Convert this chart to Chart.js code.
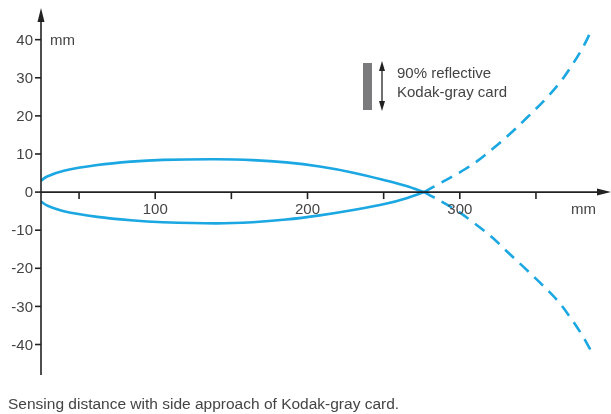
<!DOCTYPE html>
<html>
<head>
<meta charset="utf-8">
<script src="https://cdn.jsdelivr.net/npm/chart.js@4"></script>
<style>
  html, body { margin: 0; padding: 0; background: #fff; }
  #wrap { width: 611px; height: 414px; position: relative; }
</style>
</head>
<body>
<div id="wrap"><canvas id="chart" width="611" height="414"></canvas></div>
<script>
  // sensing range, mm
  const upperX = [25, 29, 40, 62, 84, 105, 140, 164, 186, 208, 230, 252, 265, 276.5];
  const upperY = [3.0, 4.1, 5.6, 7.1, 8.0, 8.45, 8.6, 8.4, 7.8, 6.7, 5.1, 3.0, 1.6, 0];
  const lowerX = [25, 29, 40, 62, 84, 105, 140, 164, 186, 208, 230, 252, 265, 276.5];
  const lowerY = [-2.5, -3.5, -5.0, -6.5, -7.4, -7.9, -8.2, -7.9, -7.2, -6.1, -4.7, -3.0, -1.6, 0];

  const dashUpX = [276.5, 287, 300, 311, 322, 333, 344, 356, 366, 374, 381, 387];
  const dashUpY = [0, 2.3, 5.2, 8.0, 11.5, 15.3, 19.5, 24.3, 28.9, 33.5, 38.1, 43.0];
  const dashLowX = [276.5, 295.5, 309, 321, 331, 341.5, 353, 364, 372.4, 381, 387];
  const dashLowY = [0, -4.2, -8.0, -11.8, -15.6, -19.5, -23.9, -28.4, -32.8, -38.0, -42.3];

  const xTicks = [50, 100, 150, 200, 250, 300, 350];
  const xTickLabels = { 100: "100", 200: "200", 300: "300" };
  const yTicks = [40, 30, 20, 10, 0, -10, -20, -30, -40];

  const blue = "#1aa7e2";
  const textColor = "#444";
  const font = "Liberation Sans, Arial, sans-serif";

  function pts(xs, ys) {
    return xs.map((x, i) => ({ x: x, y: ys[i] }));
  }

  function lineSet(data, dashed) {
    return {
      data: data,
      showLine: true,
      borderColor: blue,
      borderWidth: 2.6,
      borderDash: dashed ? [12, 8] : [],
      pointRadius: 0,
      tension: 0.35,
      fill: false
    };
  }

  // axes through origin, arrows, ticks, labels, card note and caption
  const decor = {
    id: "decor",
    afterDraw(chart) {
      const ctx = chart.ctx;
      const xs = chart.scales.x;
      const ys = chart.scales.y;
      const ax = xs.getPixelForValue(25);
      const ay = ys.getPixelForValue(0);
      const area = chart.chartArea;

      ctx.save();
      ctx.strokeStyle = "#222";
      ctx.fillStyle = "#222";
      ctx.lineWidth = 1.6;

      // y axis
      ctx.beginPath();
      ctx.moveTo(ax, area.bottom);
      ctx.lineTo(ax, 16);
      ctx.stroke();
      ctx.beginPath();
      ctx.moveTo(ax, 8);
      ctx.lineTo(ax - 3.5, 22);
      ctx.lineTo(ax + 3.5, 22);
      ctx.closePath();
      ctx.fill();

      // x axis
      ctx.beginPath();
      ctx.moveTo(ax, ay);
      ctx.lineTo(600, ay);
      ctx.stroke();
      ctx.beginPath();
      ctx.moveTo(611, ay);
      ctx.lineTo(597, ay - 3.5);
      ctx.lineTo(597, ay + 3.5);
      ctx.closePath();
      ctx.fill();

      ctx.font = "15px " + font;
      ctx.fillStyle = textColor;

      // y ticks
      ctx.textAlign = "right";
      ctx.textBaseline = "middle";
      yTicks.forEach(v => {
        const py = ys.getPixelForValue(v);
        ctx.beginPath();
        ctx.moveTo(ax - 6, py);
        ctx.lineTo(ax, py);
        ctx.stroke();
        ctx.fillText(String(v), ax - 8, py + 1);
      });

      // x ticks
      ctx.textAlign = "center";
      xTicks.forEach(v => {
        const px = xs.getPixelForValue(v);
        ctx.beginPath();
        ctx.moveTo(px, ay);
        ctx.lineTo(px, ay + 7);
        ctx.stroke();
        if (xTickLabels[v]) ctx.fillText(xTickLabels[v], px, ay + 18);
      });

      // units
      ctx.textAlign = "left";
      ctx.fillText("mm", ax + 9, ys.getPixelForValue(40) + 1);
      ctx.fillText("mm", 571, ay + 18);

      // gray card + double arrow
      ctx.fillStyle = "#7b7b7d";
      ctx.fillRect(363, 63, 9, 47);
      ctx.fillStyle = "#222";
      ctx.lineWidth = 1.3;
      ctx.beginPath();
      ctx.moveTo(382, 68);
      ctx.lineTo(382, 104);
      ctx.stroke();
      ctx.beginPath();
      ctx.moveTo(382, 61);
      ctx.lineTo(379, 71);
      ctx.lineTo(385, 71);
      ctx.closePath();
      ctx.fill();
      ctx.beginPath();
      ctx.moveTo(382, 111);
      ctx.lineTo(379, 101);
      ctx.lineTo(385, 101);
      ctx.closePath();
      ctx.fill();

      ctx.fillStyle = textColor;
      ctx.textBaseline = "alphabetic";
      ctx.fillText("90% reflective", 397, 78);
      ctx.fillText("Kodak-gray card", 397, 97);

      ctx.font = "15.5px " + font;
      ctx.fillText("Sensing distance with side approach of Kodak-gray card.", 8, 409);
      ctx.restore();
    }
  };

  new Chart(document.getElementById("chart").getContext("2d"), {
    type: "scatter",
    data: {
      datasets: [
        lineSet(pts(upperX, upperY), false),
        lineSet(pts(lowerX, lowerY), false),
        lineSet(pts(dashUpX, dashUpY), true),
        lineSet(pts(dashLowX, dashLowY), true)
      ]
    },
    options: {
      responsive: false,
      animation: false,
      layout: { padding: { left: 41, right: 5, top: 13, bottom: 39 } },
      plugins: { legend: { display: false }, tooltip: { enabled: false } },
      scales: {
        x: { type: "linear", min: 25, max: 396, display: false },
        y: { type: "linear", min: -48, max: 47, display: false }
      }
    },
    plugins: [decor]
  });
</script>
</body>
</html>
